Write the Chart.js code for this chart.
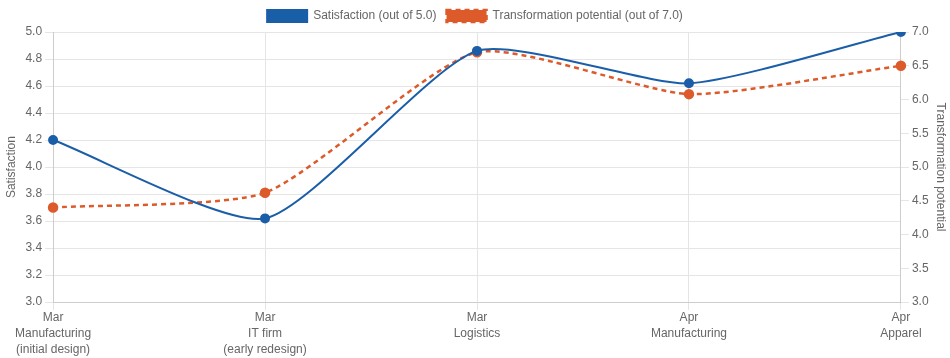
<!DOCTYPE html>
<html><head><meta charset="utf-8">
<script src="https://cdn.jsdelivr.net/npm/chart.js@4/dist/chart.umd.min.js"></script>
<style>html,body{margin:0;padding:0;background:#fff}#wrap{width:950px;height:358px}</style>
</head><body><div id="wrap"><canvas id="c"></canvas></div>
<script>
const categories = [
  ["Mar","Manufacturing","(initial design)"],
  ["Mar","IT firm","(early redesign)"],
  ["Mar","Logistics"],
  ["Apr","Manufacturing"],
  ["Apr","Apparel"]
];
const satisfaction = [4.2, 3.62, 4.86, 4.62, 5.0];
const transformation = [4.4, 4.62, 6.7, 6.08, 6.5];

Chart.defaults.font.family = "'Liberation Sans', Arial, sans-serif";
Chart.defaults.font.size = 12;
Chart.defaults.color = '#666';

new Chart(document.getElementById('c'), {
  type: 'line',
  data: {
    labels: categories,
    datasets: [
      {label: 'Satisfaction (out of 5.0)', data: satisfaction, yAxisID: 'y',
       borderColor: '#1b5ea8', backgroundColor: '#1b5ea8', borderWidth: 2,
       pointRadius: 4, pointHoverRadius: 5, tension: 0.2},
      {label: 'Transformation potential (out of 7.0)', data: transformation, yAxisID: 'y1',
       borderColor: '#dd5a2b', backgroundColor: '#dd5a2b', borderWidth: 2.5, borderDash: [5,4],
       pointRadius: 4, pointHoverRadius: 5, tension: 0.2}
    ]
  },
  options: {
    responsive: true, maintainAspectRatio: false, animation: false,
    plugins: {legend: {position: 'top', labels: {boxWidth: 40, boxHeight: 12}}},
    scales: {
      x: {grid: {color: '#e5e5e5'}, ticks: {maxRotation: 0, padding: 0, font: {lineHeight: 1.33}}},
      y: {position: 'left', min: 3.0, max: 5.0,
          ticks: {stepSize: 0.2, callback: v => v.toFixed(1)},
          grid: {color: '#e5e5e5'},
          title: {display: true, text: 'Satisfaction'}},
      y1: {position: 'right', min: 3.0, max: 7.0,
          ticks: {stepSize: 0.5, callback: v => v.toFixed(1)},
          grid: {drawOnChartArea: false},
          title: {display: true, text: 'Transformation potential', padding: {top: 2, bottom: 2}}}
    }
  }
});
</script></body></html>
